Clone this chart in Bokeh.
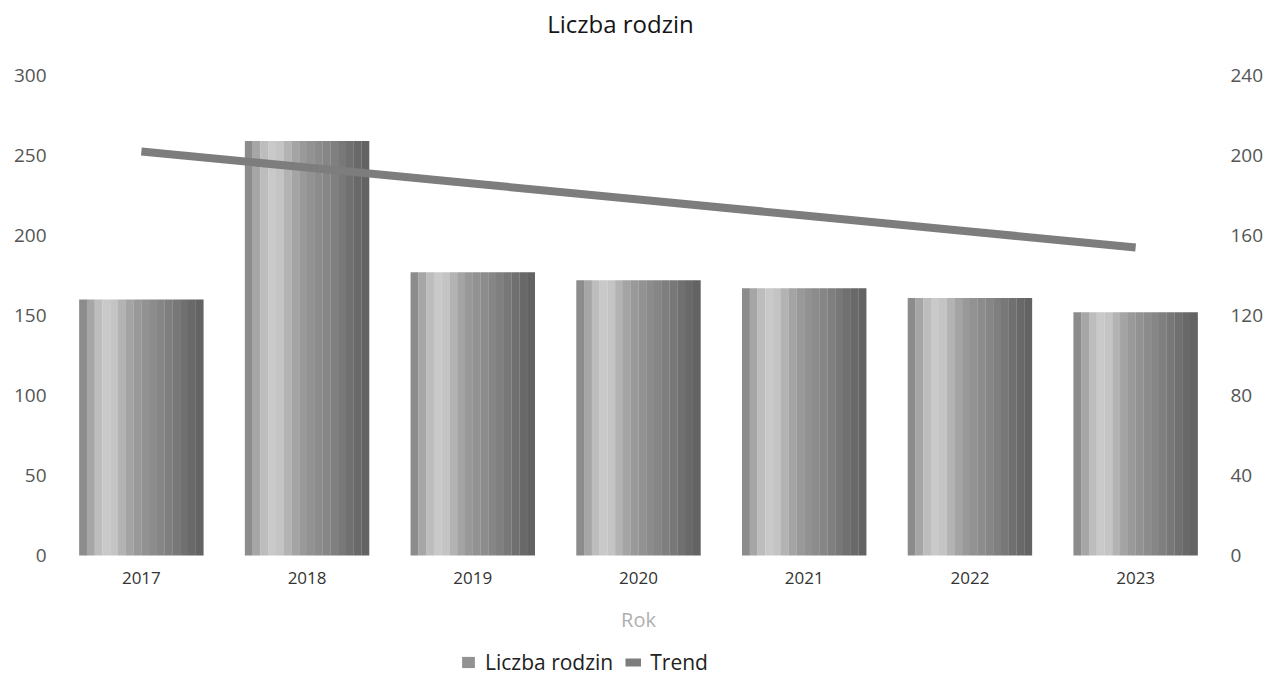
from bokeh.plotting import figure
from bokeh.models import (ColumnDataSource, Range1d, LinearAxis, FactorRange,
                          FixedTicker, Legend, LegendItem, Label)
from bokeh.transform import dodge
from bokeh.embed import file_html
from bokeh.resources import INLINE

# ---- data ----
years = ["2017", "2018", "2019", "2020", "2021", "2022", "2023"]
families = [160, 259, 177, 172, 167, 161, 152]
trend = [202, 194, 186, 178, 170, 162, 154]
left_ticks = [0, 50, 100, 150, 200, 250, 300]
right_ticks = [0, 40, 80, 120, 160, 200, 240]

source = ColumnDataSource(dict(year=years, families=families, trend=trend))

FONT = "Open Sans"

# the frame covers the full height so that title and legend can sit inside it;
# the value axes keep 300 (left) / 240 (right) at the same height
p = figure(frame_width=1160, frame_height=676,
           x_range=FactorRange(*years, range_padding=0),
           y_range=Range1d(-75.625, 346.875), output_backend="svg",
           toolbar_location=None,
           min_border_left=58, min_border_right=38, min_border_top=0,
           min_border_bottom=0)
p.extra_y_ranges = {"right": Range1d(-60.5, 277.5)}

p.outline_line_color = None
p.grid.visible = False
p.background_fill_color = "white"
p.border_fill_color = "white"

# faint left value-axis line from 0 to 300
p.segment(x0=[years[0]], y0=[0], x1=[years[0]], y1=[300],
          x_range_name="default", line_color="#eeeeee", line_width=1,
          ) if False else None

# bars drawn as vertical strips to mimic the cylinder shading
bar_w = 0.75
shades = ["#8c8c8c", "#a6a6a6", "#bdbdbd", "#c9c9c9", "#c4c4c4", "#b3b3b3",
          "#a4a4a4", "#999999", "#929292", "#8c8c8c", "#868686", "#7f7f7f",
          "#787878", "#707070", "#696969", "#636363"]
n = len(shades)
sw = bar_w / n
bar_renderers = []
for i, c in enumerate(shades):
    off = -bar_w / 2 + sw * (i + 0.5)
    r = p.vbar(x=dodge("year", off, range=p.x_range), top="families", width=sw * 1.02,
               source=source, fill_color=c, line_color=None)
    bar_renderers.append(r)

line_r = p.line(x="year", y="trend", source=source, y_range_name="right",
                line_color="#7d7d7d", line_width=8)

# axes
yl = p.yaxis[0]
yl.ticker = FixedTicker(ticks=left_ticks)
yr = LinearAxis(y_range_name="right", ticker=FixedTicker(ticks=right_ticks))
p.add_layout(yr, "right")
for ax in (yl, yr):
    ax.axis_line_color = None
    ax.major_tick_line_color = None
    ax.minor_tick_line_color = None
    ax.major_tick_out = 0
    ax.minor_tick_out = 0
    ax.major_label_text_font = FONT
    ax.major_label_text_font_size = "19px"
    ax.major_label_text_color = "#555555"
    ax.major_label_standoff = 12

xa = p.xaxis[0]
xa.fixed_location = 0
xa.axis_line_color = None
xa.major_tick_line_color = None
xa.major_tick_out = 0
xa.major_label_text_font = FONT
xa.major_label_text_font_size = "17px"
xa.major_label_text_color = "#333333"
xa.major_label_standoff = 16
xa.axis_label = "Rok"
xa.axis_label_text_font = FONT
xa.axis_label_text_font_size = "20px"
xa.axis_label_text_font_style = "normal"
xa.axis_label_text_color = "#b0b0b0"
xa.axis_label_standoff = 19

title = Label(x=562, y=653, x_units="screen", y_units="screen",
              text="Liczba rodzin", text_font=FONT, text_font_size="24px",
              text_color="#151515", text_align="center", text_baseline="middle")
p.add_layout(title)

legend = Legend(items=[LegendItem(label="Liczba rodzin", renderers=[bar_renderers[8]]),
                       LegendItem(label="Trend", renderers=[line_r])],
                orientation="horizontal", location=(402, 0),
                label_text_font=FONT, label_text_font_size="21px",
                label_text_color="#222222", glyph_width=16, glyph_height=14,
                spacing=12, padding=2, margin=0, border_line_color=None,
                background_fill_alpha=0, label_standoff=9)
p.add_layout(legend)

open("out.html", "w").write(file_html(p, INLINE))
